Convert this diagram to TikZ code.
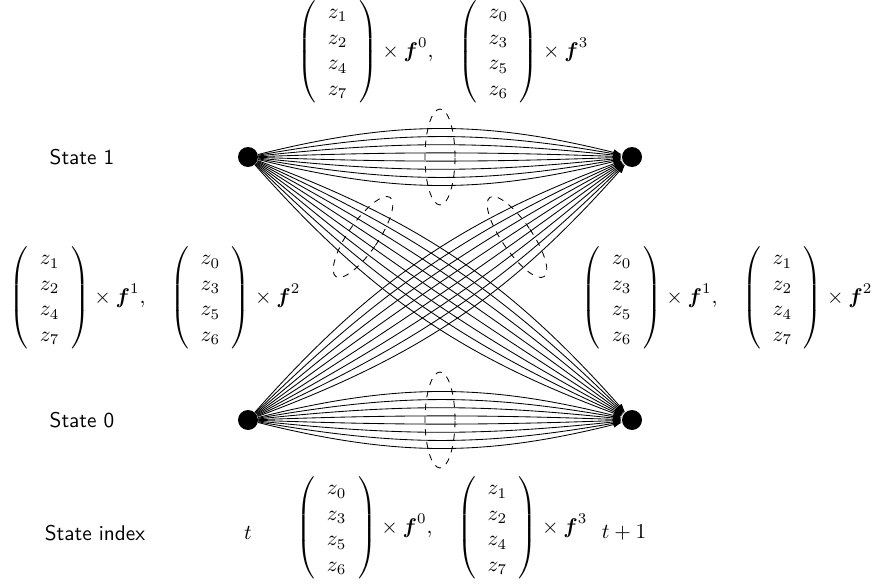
\documentclass[tikz,border=0pt]{standalone}
\usepackage{amsmath}
\usetikzlibrary{arrows.meta}
\newcommand{\zvec}[4]{\left(\begin{array}{c} z_{#1}\\ z_{#2}\\ z_{#3}\\ z_{#4}\end{array}\right)}
\setlength{\arraycolsep}{5.5pt}
\begin{document}
\begin{tikzpicture}[x=0.47pt,y=0.47pt,line width=.4pt,
  statept/.style={circle,fill=black,inner sep=0pt,minimum size=9.4pt},
  flow/.style={-{Latex[length=4pt,width=3pt]}},
  group/.style={dashed,line width=.4pt}]
\useasboundingbox (0,0) rectangle (873,583);
\node[statept] (a1) at (248,426) {};
\node[statept] (b1) at (632,426) {};
\node[statept] (a0) at (248,163) {};
\node[statept] (b0) at (632,163) {};
\foreach \b in {-14,-10,-6,-2,2,6,10,14}{
  \draw[flow] (a1) to[bend left=\b] (b1);
  \draw[flow] (a0) to[bend left=\b] (b0);
  \draw[flow] (a1) to[bend left=\b] (b0);
  \draw[flow] (a0) to[bend left=\b] (b1);
}
\draw[group] (440,426) ellipse [x radius=15,y radius=48];
\draw[group] (440,163) ellipse [x radius=15,y radius=48];
\draw[group,shift={(363,346)},rotate=-34.4] (0,0) ellipse [x radius=15,y radius=48];
\draw[group,shift={(517,346)},rotate=34.4] (0,0) ellipse [x radius=15,y radius=48];
\node (s1) at (82,426) {\textsf{State 1}};
\node (s0) at (82,163) {\textsf{State 0}};
\node (idx) at (95,50) {\textsf{State index}};
\node (t0) at (248,50) {$t$};
\node (t1) at (624,50) {$t+1$};
\node (wtop) at (443,531) {$\zvec1247\times\boldsymbol{f}^0,\quad\zvec0356\times\boldsymbol{f}^3$};
\node (wbot) at (442,55) {$\zvec0356\times\boldsymbol{f}^0,\quad\zvec1247\times\boldsymbol{f}^3$};
\node (wleft) at (155,285) {$\zvec1247\times\boldsymbol{f}^1,\quad\zvec0356\times\boldsymbol{f}^2$};
\node (wright) at (727,285) {$\zvec0356\times\boldsymbol{f}^1,\quad\zvec1247\times\boldsymbol{f}^2$};
\end{tikzpicture}
\end{document}
